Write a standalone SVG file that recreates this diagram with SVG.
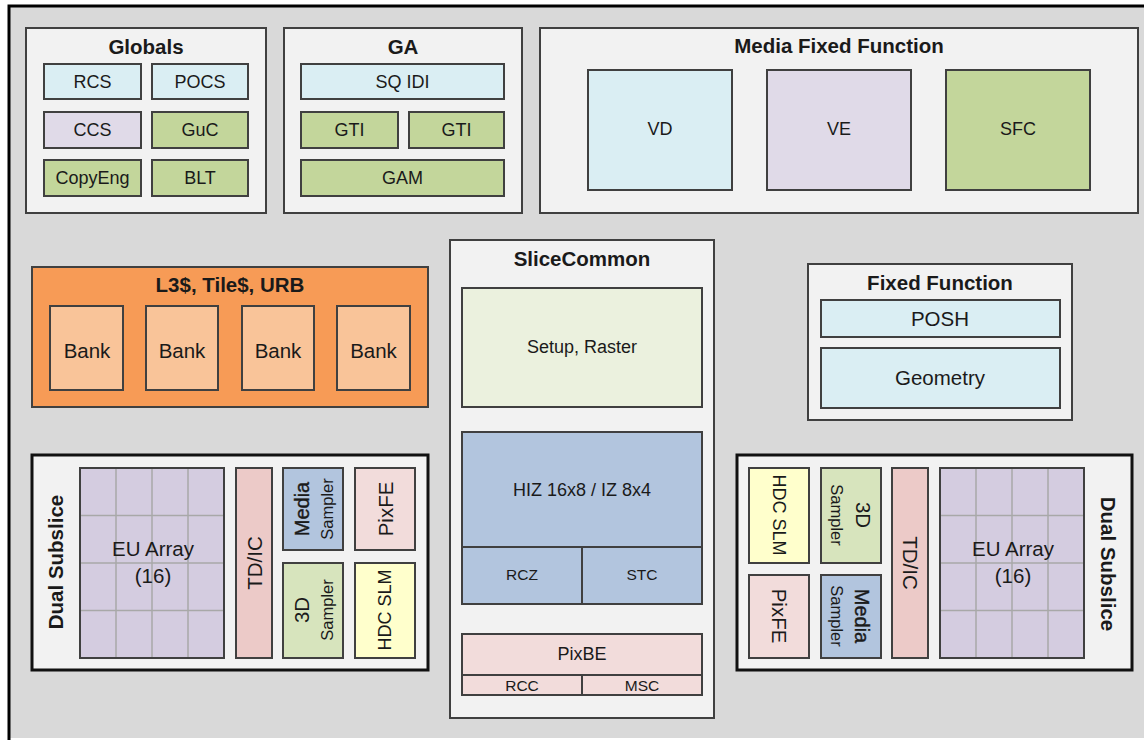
<svg xmlns="http://www.w3.org/2000/svg" width="1144" height="740" viewBox="0 0 1144 740">
<style>
text{font-family:"Liberation Sans",Arial,sans-serif;fill:#1a1a1a;text-anchor:middle;dominant-baseline:central}
.t{font-weight:bold;font-size:20.5px}
.s{font-size:18px}
.m{font-size:20.5px}
.xs{font-size:15.5px}
.sm{font-size:16.5px}
.mb{font-size:20px;stroke:#1a1a1a;stroke-width:0.4}
.c{fill:#f2f2f2;stroke:#404040;stroke-width:2}
.ds{fill:#f2f2f2;stroke:#111;stroke-width:3}
.b{stroke:#404040;stroke-width:2}
.lb{fill:#daeef3}.lv{fill:#e0dae8}.gr{fill:#c3d69b}.lg{fill:#d7e4bd}.bl{fill:#b2c5de}.pk{fill:#eccac8}.lp{fill:#f2dcdb}.yl{fill:#ffffcc}.eu{fill:#d4cce0}
.grid{stroke:#a8a8a8;stroke-width:1.5;fill:none}
</style>
<rect x="0" y="0" width="1144" height="740" fill="#ffffff"/>
<rect x="9" y="6" width="1140" height="732" fill="#d9d9d9"/>
<path d="M9 740 V6 H1144" fill="none" stroke="#000" stroke-width="3"/>

<g id="globals">
<rect class="c" x="26" y="28" width="240" height="185"/>
<text class="t" x="146" y="46">Globals</text>
<rect class="b lb" x="44" y="64" width="97" height="35"/><text class="s" x="92.5" y="81.5">RCS</text>
<rect class="b lb" x="152" y="64" width="96" height="35"/><text class="s" x="200" y="81.5">POCS</text>
<rect class="b lv" x="44" y="112" width="97" height="36"/><text class="s" x="92.5" y="130">CCS</text>
<rect class="b gr" x="152" y="112" width="96" height="36"/><text class="s" x="200" y="130">GuC</text>
<rect class="b gr" x="44" y="160" width="97" height="36"/><text class="s" x="92.5" y="178">CopyEng</text>
<rect class="b gr" x="152" y="160" width="96" height="36"/><text class="s" x="200" y="178">BLT</text>
</g>

<g id="ga">
<rect class="c" x="284" y="28" width="238" height="185"/>
<text class="t" x="403" y="46">GA</text>
<rect class="b lb" x="301" y="64" width="203" height="35"/><text class="s" x="402.5" y="81.5">SQ IDI</text>
<rect class="b gr" x="301" y="112" width="97" height="36"/><text class="s" x="349.5" y="130">GTI</text>
<rect class="b gr" x="409" y="112" width="95" height="36"/><text class="s" x="456.5" y="130">GTI</text>
<rect class="b gr" x="301" y="160" width="203" height="36"/><text class="s" x="402.5" y="178">GAM</text>
</g>

<g id="media-fixed-function">
<rect class="c" x="540" y="28" width="598" height="185"/>
<text class="t" x="839" y="45">Media Fixed Function</text>
<rect class="b lb" x="588" y="70" width="144" height="120"/><text class="s" x="660" y="129">VD</text>
<rect class="b lv" x="767" y="70" width="144" height="120"/><text class="s" x="839" y="129">VE</text>
<rect class="b gr" x="946" y="70" width="144" height="120"/><text class="s" x="1018" y="129">SFC</text>
</g>

<g id="l3">
<rect x="32" y="267" width="396" height="140" fill="#f79b56" stroke="#404040" stroke-width="2"/>
<text class="t" x="230" y="284">L3$, Tile$, URB</text>
<rect class="b" fill="#f9c499" x="50" y="306" width="73" height="84"/><text class="m" x="87" y="350">Bank</text>
<rect class="b" fill="#f9c499" x="146" y="306" width="72" height="84"/><text class="m" x="182" y="350">Bank</text>
<rect class="b" fill="#f9c499" x="242" y="306" width="72" height="84"/><text class="m" x="278" y="350">Bank</text>
<rect class="b" fill="#f9c499" x="337" y="306" width="73" height="84"/><text class="m" x="373.5" y="350">Bank</text>
</g>

<g id="slice-common">
<rect class="c" x="450" y="240" width="264" height="478"/>
<text class="t" x="582" y="258">SliceCommon</text>
<rect class="b" fill="#ebf1de" x="462" y="288" width="240" height="119"/><text class="s" x="582" y="347">Setup, Raster</text>
<rect class="b bl" x="462" y="432" width="240" height="172"/>
<path class="b" d="M462 547 H702 M582 547 V604" fill="none"/>
<text class="s" x="582" y="490">HIZ 16x8 / IZ 8x4</text>
<text class="xs" x="522" y="574">RCZ</text>
<text class="xs" x="642" y="574">STC</text>
<rect class="b lp" x="462" y="634" width="240" height="61"/>
<path class="b" d="M462 675 H702 M582 675 V695" fill="none"/>
<text class="s" x="582" y="654">PixBE</text>
<text class="xs" x="522" y="685">RCC</text>
<text class="xs" x="642" y="685">MSC</text>
</g>

<g id="fixed-function">
<rect class="c" x="808" y="264" width="264" height="156"/>
<text class="t" x="940" y="282">Fixed Function</text>
<rect class="b lb" x="821" y="300" width="239" height="37"/><text class="m" x="940" y="318">POSH</text>
<rect class="b lb" x="821" y="348" width="239" height="60"/><text class="m" x="940" y="377">Geometry</text>
</g>

<g id="dual-subslice-left">
<rect class="ds" x="32" y="455" width="396" height="215"/>
<text class="t" transform="translate(55 562) rotate(-90)">Dual Subslice</text>
<rect class="b eu" x="80" y="468" width="144" height="190"/>
<path class="grid" d="M116 469 V657 M152 469 V657 M188 469 V657 M81 515.5 H223 M81 563 H223 M81 610.5 H223"/>
<text class="m" x="153" y="548">EU Array</text>
<text class="m" x="153" y="575">(16)</text>
<rect class="b pk" x="236" y="468" width="36" height="190"/>
<text class="m" transform="translate(254 563) rotate(-90)">TD/IC</text>
<rect class="b bl" x="283" y="468" width="60" height="82"/>
<text class="mb" transform="translate(302 509) rotate(-90)">Media</text>
<text class="sm" transform="translate(327 509) rotate(-90)">Sampler</text>
<rect class="b lp" x="355" y="468" width="60" height="82"/>
<text class="m" transform="translate(385 509) rotate(-90)">PixFE</text>
<rect class="b lg" x="283" y="563" width="60" height="95"/>
<text class="m" transform="translate(301 610) rotate(-90)">3D</text>
<text class="sm" transform="translate(327 610) rotate(-90)">Sampler</text>
<rect class="b yl" x="355" y="563" width="60" height="95"/>
<text class="s" transform="translate(385 610) rotate(-90)">HDC SLM</text>
</g>

<g id="dual-subslice-right">
<rect class="ds" x="737" y="455" width="395" height="215"/>
<text class="t" transform="translate(1108 564) rotate(90)">Dual Subslice</text>
<rect class="b yl" x="749" y="468" width="60" height="95"/>
<text class="s" transform="translate(779 515) rotate(90)">HDC SLM</text>
<rect class="b lg" x="821" y="468" width="60" height="95"/>
<text class="m" transform="translate(863 515) rotate(90)">3D</text>
<text class="sm" transform="translate(837 515) rotate(90)">Sampler</text>
<rect class="b lp" x="749" y="575" width="60" height="83"/>
<text class="m" transform="translate(779 616) rotate(90)">PixFE</text>
<rect class="b bl" x="821" y="575" width="60" height="83"/>
<text class="mb" transform="translate(862 616) rotate(90)">Media</text>
<text class="sm" transform="translate(837 616) rotate(90)">Sampler</text>
<rect class="b pk" x="892" y="468" width="36" height="190"/>
<text class="m" transform="translate(910 563) rotate(90)">TD/IC</text>
<rect class="b eu" x="940" y="468" width="144" height="190"/>
<path class="grid" d="M976 469 V657 M1012 469 V657 M1048 469 V657 M941 515.5 H1083 M941 563 H1083 M941 610.5 H1083"/>
<text class="m" x="1013" y="548">EU Array</text>
<text class="m" x="1013" y="575">(16)</text>
</g>
</svg>
